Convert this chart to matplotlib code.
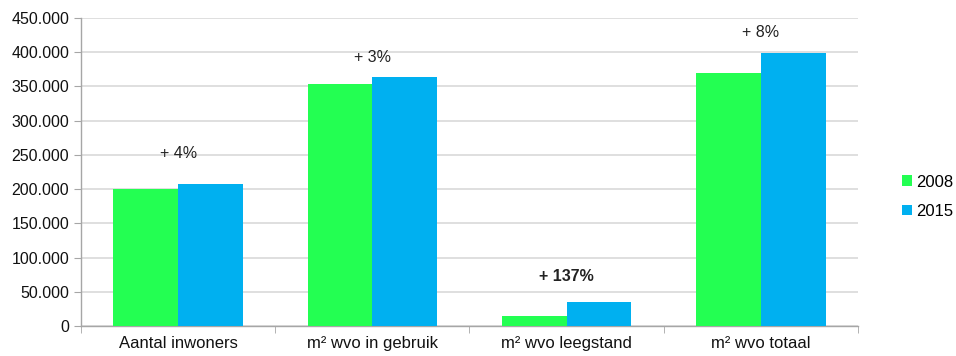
import numpy as np
import matplotlib.pyplot as plt
from matplotlib.ticker import FuncFormatter

# categorieen en waarden
categorieen = ['Aantal inwoners', 'm² wvo in gebruik', 'm² wvo leegstand', 'm² wvo totaal']
jaren = ['2008', '2015']
waarden_2008 = [200000, 354000, 15000, 369000]
waarden_2015 = [207500, 364000, 35500, 399500]
groei_labels = ['+ 4%', '+ 3%', '+ 137%', '+ 8%']
groei_vet = [False, False, True, False]

kleuren = ['#23FF52', '#00B0F0']

plt.rcParams['font.family'] = ['Liberation Sans', 'DejaVu Sans']

fig = plt.figure(figsize=(9.56, 3.56), dpi=100)
ax = fig.add_axes([0.0847, 0.0843, 0.8128, 0.8651])

x = np.arange(len(categorieen))
w = 1 / 3
ax.bar(x - w / 2, waarden_2008, w, color=kleuren[0], label=jaren[0], zorder=3)
ax.bar(x + w / 2, waarden_2015, w, color=kleuren[1], label=jaren[1], zorder=3)

# percentages boven de staven
extra = [45000, 29000, 37000, 29500]
for i, tekst in enumerate(groei_labels):
    top = max(waarden_2008[i], waarden_2015[i])
    ax.text(x[i], top + extra[i], tekst, ha='center', va='center', fontsize=11.5,
            fontweight='bold' if groei_vet[i] else 'normal', color='#222222')

ax.set_xlim(-0.5, len(categorieen) - 0.5)
ax.set_ylim(0, 450000)
ax.set_yticks(np.arange(0, 450001, 50000))
ax.yaxis.set_major_formatter(FuncFormatter(lambda v, p: f'{int(v):,}'.replace(',', '.')))
ax.yaxis.grid(True, color='#D9D9D9', linewidth=1.2, zorder=0)
ax.tick_params(axis='y', length=5, color='#A6A6A6', labelsize=11.5, labelcolor='#111111')

ax.set_xticks(x)
ax.set_xticklabels(categorieen, fontsize=12, color='#111111')
ax.tick_params(axis='x', length=0, pad=7)
ax.set_xticks(np.arange(-0.5, len(categorieen)), minor=True)
ax.tick_params(axis='x', which='minor', length=5, color='#A6A6A6', direction='out')

for s in ['top', 'right']:
    ax.spines[s].set_visible(False)
for s in ['left', 'bottom']:
    ax.spines[s].set_color('#A6A6A6')
    ax.spines[s].set_linewidth(1)

ax.legend(loc='center left', bbox_to_anchor=(1.057, 0.42), frameon=False, fontsize=12,
          borderaxespad=0, borderpad=0,
          handlelength=0.6, handleheight=0.6, handletextpad=0.25, labelspacing=0.85)

fig.savefig('out.png', dpi=100)
